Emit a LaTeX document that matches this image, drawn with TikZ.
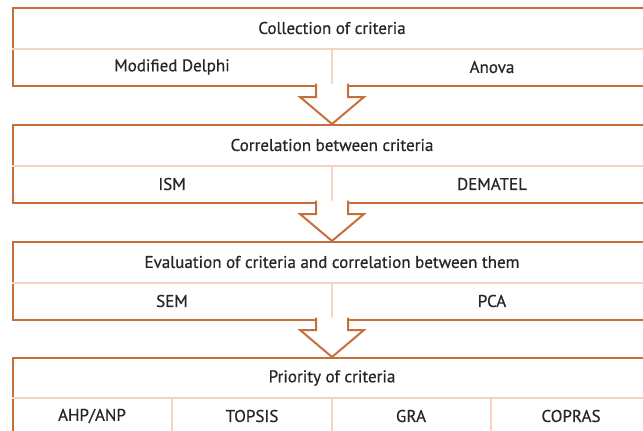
\documentclass[tikz,border=0pt]{standalone}
\usepackage{fontspec}
\setmainfont{PT Sans}[FakeBold=0.6]
\definecolor{outerc}{HTML}{C66F3C}
\definecolor{innerc}{HTML}{F4D3C1}
\definecolor{txtc}{HTML}{262626}
\begin{document}
\begin{tikzpicture}[x=1pt,y=-1pt,
  lbl/.style={text=txtc,font=\fontsize{17}{19}\selectfont,inner sep=0pt},
  outerbox/.style={draw=outerc,line width=2.4pt,rectangle,anchor=north west,inner sep=0pt,minimum width=640pt,minimum height=78pt},
  sepline/.style={draw=innerc,line width=1.2pt},
  flowarrow/.style={draw=outerc,line width=2pt,fill=white,line join=miter}]
\useasboundingbox (0,0) rectangle (643,431);
% boxes
\node[outerbox] (b1) at (12,7) {};
\node[outerbox] (b2) at (12,124) {};
\node[outerbox] (b3) at (12,241) {};
\node[outerbox] (b4) at (12,357) {};
% separators
\draw[sepline] (12,49) -- (652,49);
\draw[sepline] (332,49) -- (332,85);
\draw[sepline] (12,166) -- (652,166);
\draw[sepline] (332,166) -- (332,202);
\draw[sepline] (12,283) -- (652,283);
\draw[sepline] (332,283) -- (332,319);
\draw[sepline] (12,398) -- (652,398);
\draw[sepline] (172,398) -- (172,435);
\draw[sepline] (332,398) -- (332,435);
\draw[sepline] (491,398) -- (491,435);
% arrows
\path[flowarrow] (316,83.5) -- (316,97) -- (300,97) -- (332,124) -- (364,97) -- (348,97) -- (348,83.5);
\path[flowarrow] (316,200.5) -- (316,214) -- (300,214) -- (332,241) -- (364,214) -- (348,214) -- (348,200.5);
\path[flowarrow] (316,317.5) -- (316,330) -- (300,330) -- (332,357) -- (364,330) -- (348,330) -- (348,317.5);
% texts
\node[lbl] (h1) at (332,28) {Collection of criteria};
\node[lbl] (m1a) at (172,67) {Modified Delphi};
\node[lbl] (m1b) at (492,67) {Anova};
\node[lbl] (h2) at (332,145) {Correlation between criteria};
\node[lbl] (m2a) at (172,184) {ISM};
\node[lbl] (m2b) at (492,184) {DEMATEL};
\node[lbl] (h3) at (332,262) {Evaluation of criteria and correlation between them};
\node[lbl] (m3a) at (172,301) {SEM};
\node[lbl] (m3b) at (492,301) {PCA};
\node[lbl] (h4) at (332,378) {Priority of criteria};
\node[lbl] (m4a) at (92,416) {AHP/ANP};
\node[lbl] (m4b) at (252,416) {TOPSIS};
\node[lbl] (m4c) at (411,416) {GRA};
\node[lbl] (m4d) at (571,416) {COPRAS};
\end{tikzpicture}
\end{document}
